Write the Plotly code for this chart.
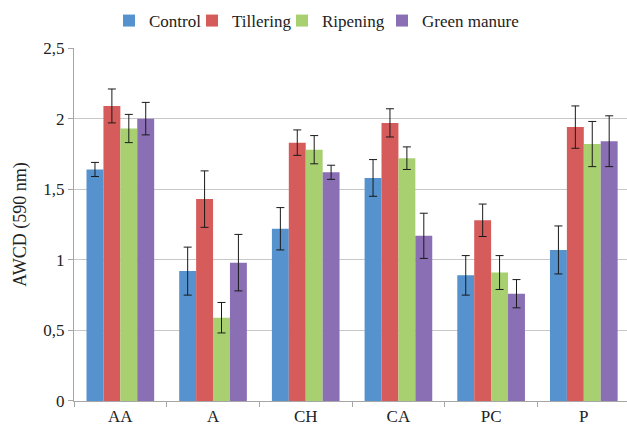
import plotly.graph_objects as go

categories = ["AA", "A", "CH", "CA", "PC", "P"]
series_names = ["Control", "Tillering", "Ripening", "Green manure"]
control = [1.64, 0.92, 1.22, 1.58, 0.89, 1.07]
tillering = [2.09, 1.43, 1.83, 1.97, 1.28, 1.94]
ripening = [1.93, 0.59, 1.78, 1.72, 0.91, 1.82]
green_manure = [2.00, 0.98, 1.62, 1.17, 0.76, 1.84]
err_control = [0.05, 0.17, 0.15, 0.13, 0.14, 0.17]
err_tillering = [0.12, 0.20, 0.09, 0.10, 0.115, 0.15]
err_ripening = [0.10, 0.108, 0.10, 0.08, 0.12, 0.16]
err_green = [0.115, 0.20, 0.05, 0.16, 0.10, 0.18]
y_ticks = [0, 0.5, 1, 1.5, 2, 2.5]
y_tick_labels = ["0", "0,5", "1", "1,5", "2", "2,5"]

colors = ["#5592CE", "#D65C5C", "#A8D071", "#8A6FB4"]
values = [control, tillering, ripening, green_manure]
errors = [err_control, err_tillering, err_ripening, err_green]
legend_ids = ["legend", "legend2", "legend3", "legend4"]
legend_text_x = [149, 232, 322, 422]

W, H = 627, 427
fig = go.Figure()
for name, v, e, c, lg in zip(series_names, values, errors, colors, legend_ids):
    fig.add_trace(go.Bar(
        name=name, x=categories, y=v, marker_color=c, marker_line_width=0,
        legend=lg,
        error_y=dict(type="data", array=e, color="#1a1a1a", thickness=1, width=4),
    ))

font_family = "Liberation Serif"
legend_common = dict(orientation="h", yref="container", y=1 - 3 / H, yanchor="top",
                     xref="container", xanchor="left", font=dict(size=17),
                     itemwidth=30, bgcolor="rgba(0,0,0,0)")
layout_legends = {}
for lg, tx in zip(legend_ids, legend_text_x):
    layout_legends[lg] = dict(legend_common, x=(tx - 40) / W)

fig.update_layout(
    width=W, height=H,
    margin=dict(l=74, r=0, t=47, b=26),
    barmode="group", bargap=0.27, bargroupgap=0,
    plot_bgcolor="white", paper_bgcolor="white",
    font=dict(family=font_family, size=17, color="#222222"),
    showlegend=True,
    xaxis=dict(range=[-0.5, 5.466], showline=True, linecolor="#A6A6A6",
               ticks="outside", tickson="boundaries", ticklen=5, tickcolor="#A6A6A6",
               tickfont=dict(size=17), showgrid=False),
    yaxis=dict(range=[0, 2.5], tickvals=y_ticks, ticktext=y_tick_labels,
               showline=True, linecolor="#A6A6A6", ticks="outside", ticklen=5,
               tickcolor="#A6A6A6", gridcolor="#C8C8C8", zeroline=False,
               tickfont=dict(size=17),
               title=dict(text="AWCD (590 nm)", font=dict(size=18), standoff=12)),
    **layout_legends,
)
fig.write_html("out.html")
